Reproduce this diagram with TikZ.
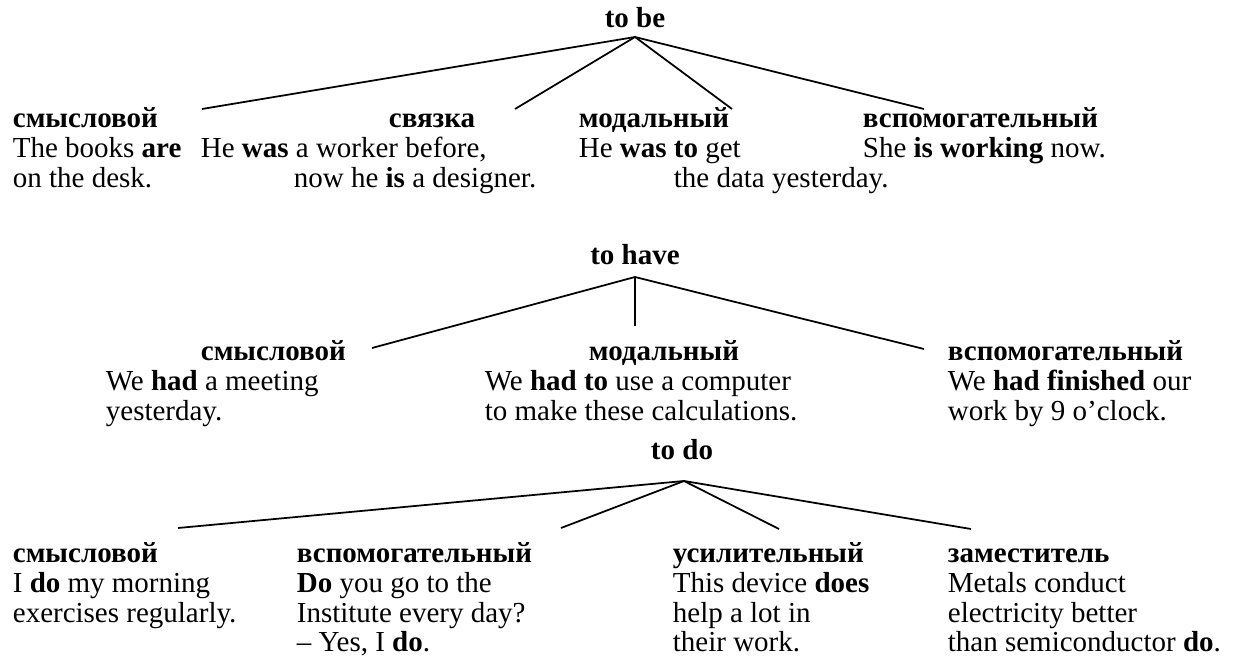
\documentclass[tikz,border=0pt]{standalone}
\usepackage{fontspec}
\setmainfont{Liberation Serif}
\newcommand{\txtsize}{\fontsize{16.5}{16.8}\selectfont}

\begin{document}
\begin{tikzpicture}[line width=1pt,
  verb/.style={font=\txtsize\bfseries,anchor=base,inner sep=0pt},
  hdr/.style={font=\txtsize\bfseries,anchor=base west,inner sep=0pt},
  ex/.style={font=\txtsize,align=left,anchor=base west,inner sep=0pt}]
  \useasboundingbox (0,0) rectangle (24.9,13.36);

  % to be (ex nodes sit on the baseline of their last line)
  \node[verb] (tobe) at (12.70,12.80){to be};
  \coordinate (be) at (12.70,12.62);
  \coordinate (be1) at (4.04,11.18);  \coordinate (be2) at (10.30,11.18);
  \coordinate (be3) at (14.64,11.18); \coordinate (be4) at (18.48,11.18);
  \draw (be)--(be1); \draw (be)--(be2); \draw (be)--(be3); \draw (be)--(be4);
  \node[hdr] (beh1) at (0.24,10.80){смысловой};
  \node[hdr] (beh2) at (7.76,10.80){связка};
  \node[hdr] (beh3) at (11.56,10.80){модальный};
  \node[hdr] (beh4) at (17.24,10.80){вспомогательный};
  \node[ex] (bex1) at (0.24,9.61){The books \textbf{are}\\on the desk.};
  \node[ex] (bex2) at (4.00,9.61){He \textbf{was} a worker before,\\\hspace*{1.86cm}now he \textbf{is} a designer.};
  \node[ex] (bex3) at (11.56,9.61){He \textbf{was to} get\\\hspace*{1.90cm}the data yesterday.};
  \node[ex] (bex4) at (17.24,10.20){She \textbf{is working} now.};

  % to have
  \node[verb] (tohave) at (12.70,8.06){to have};
  \coordinate (have) at (12.70,7.82);
  \coordinate (have1) at (7.44,6.40); \coordinate (have2) at (12.70,6.84);
  \coordinate (have3) at (18.48,6.38);
  \draw (have)--(have1); \draw (have)--(have2); \draw (have)--(have3);
  \node[hdr] (haveh1) at (4.00,6.14){смысловой};
  \node[hdr] (haveh2) at (11.76,6.14){модальный};
  \node[hdr] (haveh3) at (18.94,6.14){вспомогательный};
  \node[ex] (havex1) at (2.10,4.95){We \textbf{had} a meeting\\yesterday.};
  \node[ex] (havex2) at (9.68,4.95){We \textbf{had to} use a computer\\to make these calculations.};
  \node[ex] (havex3) at (18.94,4.95){We \textbf{had finished} our\\work by 9 o’clock.};

  % to do
  \node[verb] (todo) at (13.64,4.16){to do};
  \coordinate (do) at (13.68,3.74);
  \coordinate (do1) at (3.56,2.80);  \coordinate (do2) at (11.22,2.80);
  \coordinate (do3) at (15.58,2.78); \coordinate (do4) at (19.42,2.78);
  \draw (do)--(do1); \draw (do)--(do2); \draw (do)--(do3); \draw (do)--(do4);
  \node[hdr] (doh1) at (0.24,2.10){смысловой};
  \node[hdr] (doh2) at (5.92,2.10){вспомогательный};
  \node[hdr] (doh3) at (13.44,2.10){усилительный};
  \node[hdr] (doh4) at (18.94,2.10){заместитель};
  \node[ex] (dox1) at (0.24,0.91){I \textbf{do} my morning\\exercises regularly.};
  \node[ex] (dox2) at (5.92,0.32){\textbf{Do} you go to the\\Institute every day?\\– Yes, I \textbf{do}.};
  \node[ex] (dox3) at (13.44,0.32){This device \textbf{does}\\help a lot in\\their work.};
  \node[ex] (dox4) at (18.94,0.32){Metals conduct\\electricity better\\than semiconductor \textbf{do}.};
\end{tikzpicture}
\end{document}
